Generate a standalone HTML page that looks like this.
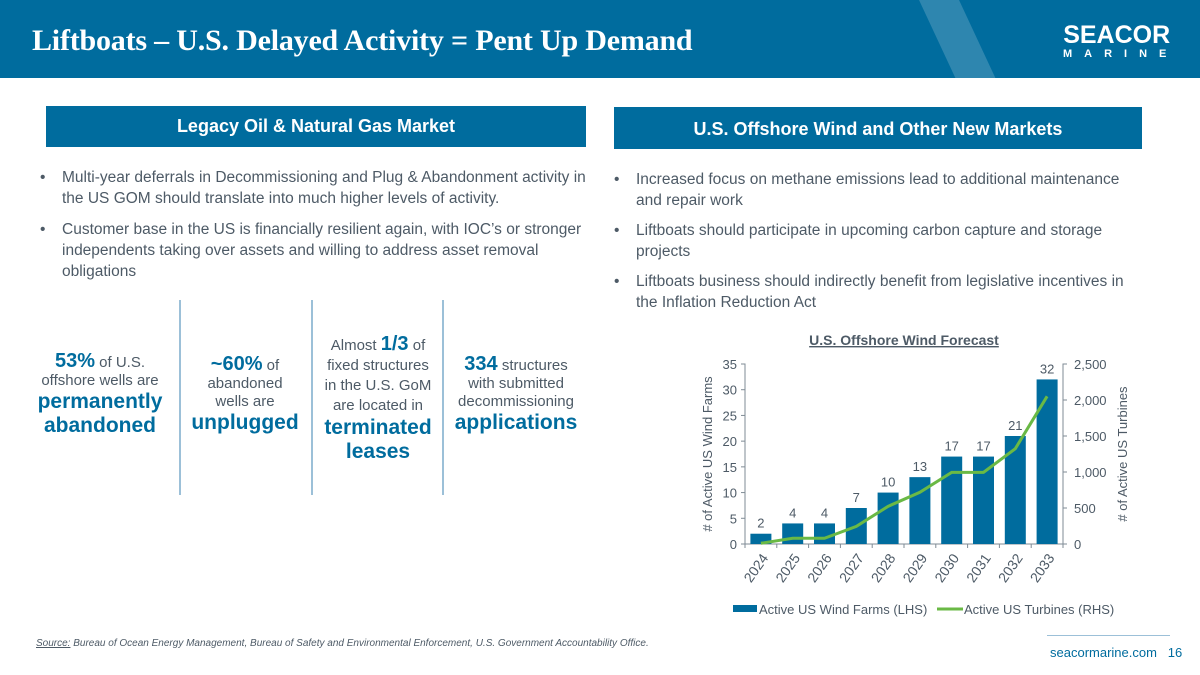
<!DOCTYPE html>
<html><head><meta charset="utf-8">
<style>
*{margin:0;padding:0;box-sizing:border-box}
body{width:1200px;height:675px;position:relative;background:#fff;font-family:"Liberation Sans",sans-serif;color:#4d5a66;overflow:hidden}
.abs{position:absolute}
.hdr{left:0;top:0;width:1200px;height:78px;background:#006c9e;overflow:hidden}
.title{left:32px;top:24px;font-family:"Liberation Serif",serif;font-weight:bold;font-size:30px;color:#fff;letter-spacing:-0.2px}
.box{background:#006c9e;color:#fff;font-size:18px;font-weight:bold;text-align:center}
.bul{font-size:15.5px;line-height:21px;color:#4d5a66}
.bul li{list-style:none;position:relative;padding-left:24px;margin-bottom:10px}
.bul li:before{content:"•";position:absolute;left:2px;top:0}
.stat{text-align:center;font-size:15px;line-height:18px;color:#4d5a66}
.stat b{color:#006c9e;font-size:20px}
.big{color:#006c9e;font-weight:bold;font-size:21px;line-height:24px}
.div{width:2px;background:#9cc0d8;top:300px;height:195px}
</style></head><body>
<div class="abs hdr">
 <div class="abs" style="left:940px;top:-10px;width:40px;height:110px;background:rgba(255,255,255,0.18);transform:skewX(25deg)"></div>
</div>
<div class="abs title">Liftboats – U.S. Delayed Activity = Pent Up Demand</div>
<div class="abs" style="left:1055px;top:22px;color:#fff;text-align:center">
 <div style="font-weight:bold;font-size:25px;letter-spacing:0px;line-height:26px">SEACOR</div>
 <div style="font-weight:bold;font-size:11px;letter-spacing:12px;margin-left:8px">MARINE</div>
</div>
<div class="abs box" style="left:46px;top:106px;width:540px;height:41px;line-height:41px">Legacy Oil &amp; Natural Gas Market</div>
<div class="abs box" style="left:614px;top:107px;width:528px;height:42px;line-height:44px">U.S. Offshore Wind and Other New Markets</div>

<ul class="abs bul" style="left:38px;top:167px;width:550px">
<li>Multi-year deferrals in Decommissioning and Plug &amp; Abandonment activity in the US GOM should translate into much higher levels of activity.</li>
<li>Customer base in the US is financially resilient again, with IOC’s or stronger independents taking over assets and willing to address asset removal obligations</li>
</ul>
<ul class="abs bul" style="left:612px;top:169px;width:520px">
<li style="margin-bottom:9px">Increased focus on methane emissions lead to additional maintenance and repair work</li>
<li style="margin-bottom:9px">Liftboats should participate in upcoming carbon capture and storage projects</li>
<li>Liftboats business should indirectly benefit from legislative incentives in the Inflation Reduction Act</li>
</ul>

<div class="abs div" style="left:179px"></div>
<div class="abs div" style="left:311px"></div>
<div class="abs div" style="left:442px"></div>

<div class="abs stat" style="left:30px;top:352px;width:140px"><b>53%</b> of U.S.<br>offshore wells are<div class="big">permanently<br>abandoned</div></div>
<div class="abs stat" style="left:185px;top:355px;width:120px"><b>~60%</b> of<br>abandoned<br>wells are<div class="big">unplugged</div></div>
<div class="abs stat" style="left:310px;top:334px;width:136px;line-height:20px">Almost <b>1/3</b> of<br>fixed structures<br>in the U.S. GoM<br>are located in<div class="big">terminated<br>leases</div></div>
<div class="abs stat" style="left:448px;top:355px;width:136px"><b>334</b> structures<br>with submitted<br>decommissioning<div class="big">applications</div></div>

<svg class="abs" style="left:0;top:0" width="1200" height="675" id="chart"></svg>

<div class="abs" style="left:36px;top:638px;font-size:10px;font-style:italic;color:#4d5a66"><u>Source:</u> Bureau of Ocean Energy Management, Bureau of Safety and Environmental Enforcement, U.S. Government Accountability Office.</div>
<div class="abs" style="left:1047px;top:635px;width:123px;height:1px;background:#9cc0d8"></div>
<div class="abs" style="left:1050px;top:645px;width:120px;text-align:right;font-size:13px;color:#006c9e">seacormarine.com&nbsp;&nbsp;&nbsp;16</div>

<script>
const years=["2024","2025","2026","2027","2028","2029","2030","2031","2032","2033"];
const farms=[2,4,4,7,10,13,17,17,21,32];
const turbines=[10,80,80,245,523,718,995,995,1324,2051];
const leftTicks=[0,5,10,15,20,25,30,35];
const rightTicks=[0,500,1000,1500,2000,2500];
const NS="http://www.w3.org/2000/svg";
const svg=document.getElementById('chart');
const X0=745,X1=1063,Y0=544,Y1=364;
const band=(X1-X0)/years.length;
const xc=i=>X0+band*(i+0.5);
const yL=v=>Y0-(v/35)*(Y0-Y1);
const yR=v=>Y0-(v/2500)*(Y0-Y1);
function mk(tag,attrs,text){const e=document.createElementNS(NS,tag);for(const k in attrs)e.setAttribute(k,attrs[k]);if(text!=null)e.textContent=text;svg.appendChild(e);return e;}
const F='font-family:"Liberation Sans",sans-serif;fill:#4d5a66';
let t=mk('text',{x:904,y:345,'text-anchor':'middle',style:F+';font-size:14px;font-weight:bold;fill:#4d5a66;text-decoration:underline'},'U.S. Offshore Wind Forecast');


let a=mk('path',{d:`M${X0-4},${Y1}H${X0}V${Y0}H${X1}V${Y1}H${X1+4}`,stroke:'#7f8b95',fill:'none','stroke-width':1});


leftTicks.forEach(v=>{
 mk('line',{x1:X0-4,x2:X0,y1:yL(v),y2:yL(v),stroke:'#7f8b95'});
 const e=mk('text',{x:X0-8,y:yL(v)+5,'text-anchor':'end',style:F+';font-size:13px'},String(v));
 
 
});
rightTicks.forEach(v=>{
 mk('line',{x1:X1,x2:X1+4,y1:yR(v),y2:yR(v),stroke:'#7f8b95'});
 const e=mk('text',{x:X1+11,y:yR(v)+5,'text-anchor':'start',style:F+';font-size:13px'},v.toLocaleString('en-US'));
 
 
});
for(let i=0;i<=years.length;i++) mk('line',{x1:X0+band*i,x2:X0+band*i,y1:Y0,y2:Y0+4,stroke:'#7f8b95'});
years.forEach((y,i)=>{
 const b=mk('rect',{x:xc(i)-10.5,y:yL(farms[i]),width:21,height:Y0-yL(farms[i]),fill:'#006c9e'});
 
 
 const l=mk('text',{x:xc(i),y:yL(farms[i])-6,'text-anchor':'middle',style:F+';font-size:13px'},String(farms[i]));
 
 
 const xl=mk('text',{x:xc(i)+8,y:Y0+14,'text-anchor':'end',transform:`rotate(-55 ${xc(i)+8} ${Y0+14})`,style:F+';font-size:14px'},y);
 
 
});
const ln=mk('polyline',{points:years.map((y,i)=>xc(i)+','+yR(turbines[i])).join(' '),fill:'none',stroke:'#6ab945','stroke-width':3});


let yt=mk('text',{x:712,y:454,'text-anchor':'middle',transform:'rotate(-90 712 454)',style:F+';font-size:13px'},'# of Active US Wind Farms');


let yt2=mk('text',{x:1127,y:454,'text-anchor':'middle',transform:'rotate(-90 1127 454)',style:F+';font-size:13px'},'# of Active US Turbines');


let lg1=mk('rect',{x:733,y:605,width:24,height:7,fill:'#006c9e'});


let lt1=mk('text',{x:759,y:614,style:F+';font-size:13px'},'Active US Wind Farms (LHS)');


let lg2=mk('line',{x1:937,x2:963,y1:609,y2:609,stroke:'#6ab945','stroke-width':3});


let lt2=mk('text',{x:964,y:614,style:F+';font-size:13px'},'Active US Turbines (RHS)');


</script>
</body></html>
